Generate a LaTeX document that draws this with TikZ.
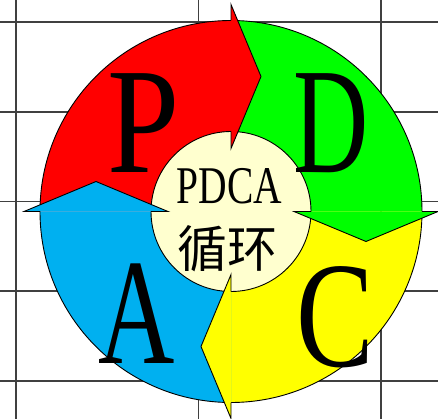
\documentclass[tikz,border=0pt]{standalone}
\usepackage{fontspec}
\setmainfont{Liberation Serif}
\newfontfamily\cjk{Noto Sans CJK SC}
\definecolor{pdcared}{HTML}{FF0000}
\definecolor{pdcagreen}{HTML}{00FF00}
\definecolor{pdcayellow}{HTML}{FFFF00}
\definecolor{pdcablue}{HTML}{00B0F0}
\definecolor{pdcacore}{HTML}{FFFFCF}
\definecolor{gridgray}{HTML}{404040}
\tikzset{
  gridline/.style={draw=gridgray,line width=1.2pt},
  edge/.style={draw=black,line width=0.9pt,line join=miter},
  bigletter/.style={anchor=base,inner sep=0pt,text=black},
}
\newcommand{\pdcasector}[3]{% start angle, end angle, colour
  \fill[#3] (#1:191) arc[start angle=#1,end angle=#2,radius=191]
     -- (#2:80) arc[start angle=#2,end angle=#1,radius=80] -- cycle;}
\newcommand{\pdcahead}[3]{% base angle, tip, colour
  \fill[#3] (#1:63) -- #2 -- (#1:207) -- cycle;
  \draw[edge] (#1:80) -- (#1:63) -- #2 -- (#1:207) -- (#1:191);}
\begin{document}
\begin{tikzpicture}[x=1pt,y=-1pt]
\useasboundingbox (0,0) rectangle (438,419);
\fill[white] (0,0) rectangle (438,419);
\foreach \gx in {16,198.5,381} \draw[gridline] (\gx,0) -- (\gx,419);
\foreach \gy in {22,112,201.5,291,381} \draw[gridline] (0,\gy) -- (438,\gy);
\begin{scope}[shift={(231,211.5)}]
  \fill[pdcacore] (0,0) circle[radius=80];
  \pdcasector{180}{270}{pdcared}
  \pdcasector{270}{360}{pdcagreen}
  \pdcasector{0}{90}{pdcayellow}
  \pdcasector{90}{180}{pdcablue}
  \draw[edge] (0,0) circle[radius=191];
  \draw[edge] (0,0) circle[radius=80];
  \pdcahead{270}{(30,-135)}{pdcared}
  \pdcahead{360}{(135,30)}{pdcagreen}
  \pdcahead{90}{(-30,135)}{pdcayellow}
  \pdcahead{180}{(-135,-30)}{pdcablue}
\end{scope}
\node[bigletter] (P) at (144,173) {\scalebox{0.86}[1]{\fontsize{151}{151}\selectfont P}};
\node[bigletter] (D) at (331,173) {\scalebox{0.69}[1]{\fontsize{151}{151}\selectfont D}};
\node[bigletter] (C) at (335,366) {\scalebox{0.77}[1]{\fontsize{151}{151}\selectfont C}};
\node[bigletter] (A) at (137,363) {\scalebox{0.70}[1]{\fontsize{151}{151}\selectfont A}};
\node[bigletter] (pdca) at (229.5,204) {\scalebox{0.745}[1]{\fontsize{53}{53}\selectfont PDCA}};
\node[inner sep=0pt,anchor=center] (xunhuan) at (227.5,248.5) {\fontsize{50}{50}\cjk 循环};
\end{tikzpicture}
\end{document}
